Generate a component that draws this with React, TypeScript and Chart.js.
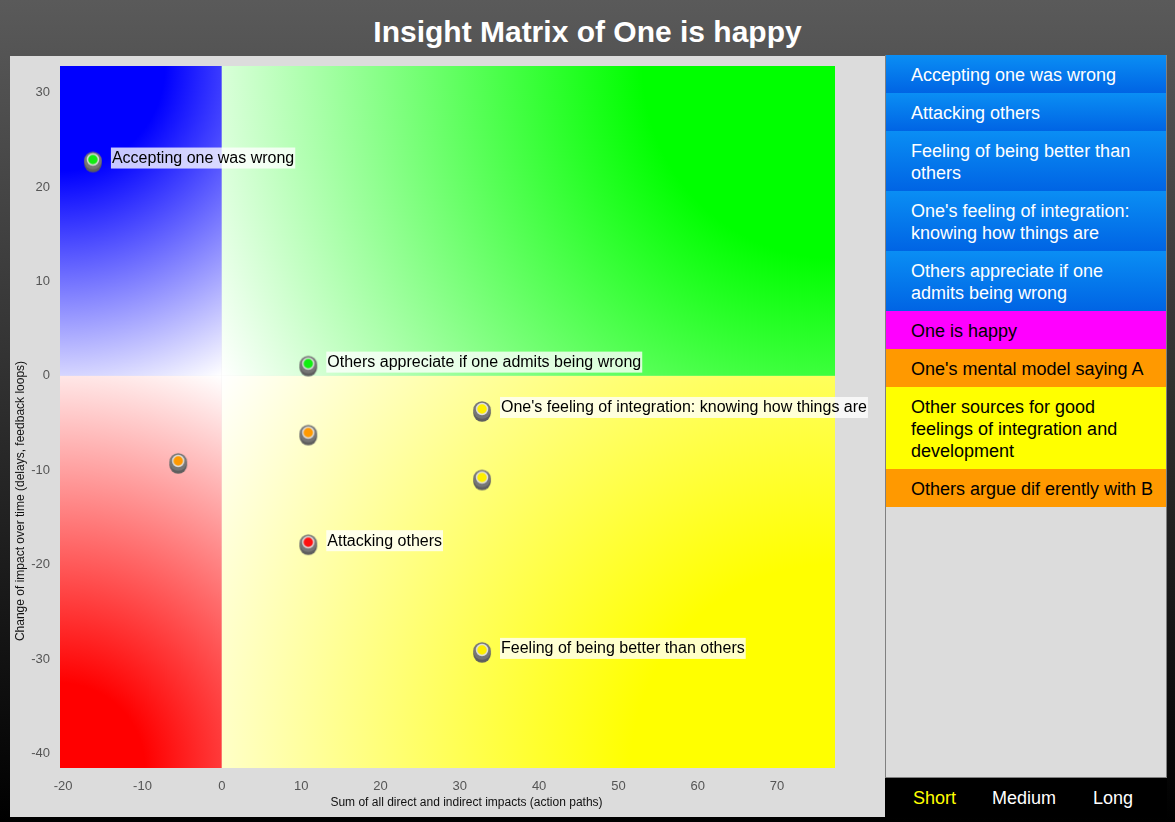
import React, { useEffect, useRef } from "react";
import { Chart, registerables } from "chart.js";

Chart.register(...registerables);

const FONT = "'Liberation Sans', Arial, Helvetica, sans-serif";

const TITLE = "Insight Matrix of One is happy";
const X_TITLE = "Sum of all direct and indirect impacts (action paths)";
const Y_TITLE = "Change of impact over time (delays, feedback loops)";

const X_TICKS = [-20, -10, 0, 10, 20, 30, 40, 50, 60, 70];
const Y_TICKS = [-40, -30, -20, -10, 0, 10, 20, 30];
const X_MIN = -20.4;
const X_MAX = 77.3;
const Y_MIN = -41.5;
const Y_MAX = 32.8;

const POINT_NAMES = [
  "Accepting one was wrong",
  "Others appreciate if one admits being wrong",
  "One's feeling of integration: knowing how things are",
  "One's mental model saying A",
  "Others argue dif erently with B",
  "Other sources for good feelings of integration and development",
  "Attacking others",
  "Feeling of being better than others",
];
const POINT_X = [-16.25, 10.9, 32.8, 10.9, -5.5, 32.8, 10.9, 32.8];
const POINT_Y = [22.9, 1.3, -3.5, -6.0, -9.0, -10.75, -17.6, -29.0];
const POINT_COLORS = ["#11ee11", "#11ee11", "#fff000", "#ff9900", "#ff9900", "#fff000", "#ff1111", "#fff000"];
const POINT_LABELED = [true, true, true, false, false, false, true, true];

const LIST_ITEMS = [
  "Accepting one was wrong",
  "Attacking others",
  "Feeling of being better than\nothers",
  "One's feeling of integration:\nknowing how things are",
  "Others appreciate if one\nadmits being wrong",
  "One is happy",
  "One's mental model saying A",
  "Other sources for good\nfeelings of integration and\ndevelopment",
  "Others argue dif erently with B",
];
const LIST_KINDS = ["blue", "blue", "blue", "blue", "blue", "magenta", "orange", "yellow", "orange"];

const TIME_OPTIONS = ["Short", "Medium", "Long"];
const TIME_LEFT = [913, 992, 1093];
const SELECTED_TIME = 0;

const KIND_STYLE: Record<string, { bg: string; color: string }> = {
  blue: { bg: "linear-gradient(to bottom, #0a8ef4, #0064e4)", color: "#ffffff" },
  magenta: { bg: "#ff00ff", color: "#000000" },
  orange: { bg: "#ff9900", color: "#000000" },
  yellow: { bg: "#ffff00", color: "#000000" },
};

function makeMarker(color: string) {
  const c = document.createElement("canvas");
  c.width = 24;
  c.height = 30;
  const g = c.getContext("2d")!;
  const cx = 12;
  const cy = 15;
  g.fillStyle = "#5e5e5e";
  g.beginPath();
  g.arc(cx, cy + 4, 8.8, 0, Math.PI * 2);
  g.fill();
  g.fillStyle = "#767676";
  g.beginPath();
  g.arc(cx, cy + 1, 8.8, 0, Math.PI * 2);
  g.fill();
  g.fillStyle = color;
  g.beginPath();
  g.arc(cx, cy, 5.5, 0, Math.PI * 2);
  g.fill();
  g.strokeStyle = "rgba(225,225,225,0.95)";
  g.lineWidth = 1.5;
  g.stroke();
  return c;
}

export default function App() {
  const canvasRef = useRef<HTMLCanvasElement>(null);

  useEffect(() => {
    const canvas = canvasRef.current!;
    const markers = POINT_COLORS.map(makeMarker);

    const quadrantPlugin = {
      id: "quadrants",
      beforeDatasetsDraw(chart: any) {
        const { ctx, chartArea: a, scales } = chart;
        const ox = scales.x.getPixelForValue(0);
        const oy = scales.y.getPixelForValue(0);
        const quads: [number, number, string, number][] = [
          [a.left, a.top, "#0000ff", 0.3],
          [a.right, a.top, "#00ff00", 0.28],
          [a.left, a.bottom, "#ff0000", 0.2],
          [a.right, a.bottom, "#ffff00", 0.28],
        ];
        ctx.save();
        for (const [cx, cy, col, solid] of quads) {
          const r = Math.hypot(cx - ox, cy - oy);
          const g = ctx.createRadialGradient(cx, cy, 0, cx, cy, r);
          g.addColorStop(0, col);
          g.addColorStop(solid, col);
          g.addColorStop(1, "#ffffff");
          ctx.fillStyle = g;
          ctx.fillRect(Math.min(ox, cx), Math.min(oy, cy), Math.abs(cx - ox), Math.abs(cy - oy));
        }
        ctx.restore();
      },
    };

    const labelPlugin = {
      id: "pointLabels",
      afterDatasetsDraw(chart: any) {
        const { ctx } = chart;
        const meta = chart.getDatasetMeta(0);
        ctx.save();
        ctx.font = `16px ${FONT}`;
        ctx.textBaseline = "middle";
        ctx.textAlign = "left";
        meta.data.forEach((el: any, i: number) => {
          if (!POINT_LABELED[i]) return;
          const text = POINT_NAMES[i];
          const w = ctx.measureText(text).width;
          const lx = el.x + 18;
          const cy = el.y - 1.5;
          ctx.fillStyle = "rgba(255,255,255,0.78)";
          ctx.fillRect(lx, cy - 10.5, w + 2, 21);
          ctx.fillStyle = "#000000";
          ctx.fillText(text, lx + 1, cy + 0.5);
        });
        ctx.restore();
      },
    };

    const axisTitlePlugin = {
      id: "axisTitles",
      afterDraw(chart: any) {
        const { ctx } = chart;
        ctx.save();
        ctx.font = `12px ${FONT}`;
        ctx.fillStyle = "#111111";
        ctx.textAlign = "center";
        ctx.textBaseline = "middle";
        ctx.fillText(X_TITLE, 456.5, 747);
        ctx.translate(11, 445);
        ctx.rotate(-Math.PI / 2);
        ctx.fillText(Y_TITLE, 0, 0);
        ctx.restore();
      },
    };

    const chart = new Chart(canvas, {
      type: "scatter",
      data: {
        datasets: [
          {
            data: POINT_X.map((x, i) => ({ x, y: POINT_Y[i] })),
            pointStyle: markers as any,
            pointRadius: 9,
            pointHoverRadius: 9,
            clip: false as any,
          },
        ],
      },
      options: {
        animation: false,
        responsive: false,
        maintainAspectRatio: false,
        layout: { padding: { top: 9, right: 50, left: 0, bottom: 0 } },
        plugins: {
          legend: { display: false },
          tooltip: { enabled: false },
          title: { display: false },
        },
        scales: {
          x: {
            type: "linear",
            min: X_MIN,
            max: X_MAX,
            grid: { display: false, drawTicks: false },
            border: { display: false },
            ticks: { color: "#555555", font: { size: 13, family: FONT }, padding: 11, autoSkip: false, maxRotation: 0 },
            afterBuildTicks: (s: any) => {
              s.ticks = X_TICKS.map((v) => ({ value: v }));
            },
            afterFit: (s: any) => {
              s.height = 49;
              s.paddingLeft = 0;
              s.paddingRight = 0;
            },
          },
          y: {
            type: "linear",
            min: Y_MIN,
            max: Y_MAX,
            grid: { display: false, drawTicks: false },
            border: { display: false },
            ticks: { color: "#555555", font: { size: 13, family: FONT }, padding: 10, autoSkip: false },
            afterBuildTicks: (s: any) => {
              s.ticks = Y_TICKS.map((v) => ({ value: v }));
            },
            afterFit: (s: any) => {
              s.width = 50;
              s.paddingTop = 0;
              s.paddingBottom = 0;
            },
          },
        },
      },
      plugins: [quadrantPlugin, labelPlugin, axisTitlePlugin],
    });

    return () => chart.destroy();
  }, []);

  return (
    <div
      style={{
        position: "fixed",
        left: 0,
        top: 0,
        width: 1175,
        height: 822,
        overflow: "hidden",
        background: "linear-gradient(to bottom, #5a5a5a, #000000)",
        fontFamily: FONT,
      }}
    >
      <div
        style={{
          position: "absolute",
          left: 0,
          top: 15,
          width: 1175,
          textAlign: "center",
          color: "#ffffff",
          fontWeight: "bold",
          fontSize: 30,
          lineHeight: "34px",
        }}
      >
        {TITLE}
      </div>

      <div style={{ position: "absolute", left: 10, top: 56, width: 875, height: 761, background: "#dcdcdc" }}>
        <canvas ref={canvasRef} width={875} height={761} style={{ display: "block", width: 875, height: 761 }} />
      </div>

      <div
        style={{
          position: "absolute",
          left: 885,
          top: 55,
          width: 282,
          height: 723,
          boxSizing: "border-box",
          border: "1px solid #808080",
          borderTop: "none",
          background: "#dcdcdc",
        }}
      >
        {LIST_ITEMS.map((t, i) => {
          const st = KIND_STYLE[LIST_KINDS[i]];
          return (
            <div
              key={i}
              style={{
                background: st.bg,
                color: st.color,
                fontSize: 18,
                lineHeight: "22px",
                padding: "9px 8px 7px 25px",
                whiteSpace: "pre-line",
              }}
            >
              {t}
            </div>
          );
        })}
      </div>

      <div style={{ position: "absolute", left: 885, top: 778, width: 282, height: 40, background: "#000000" }}>
        {TIME_OPTIONS.map((t, i) => (
          <span
            key={t}
            style={{
              position: "absolute",
              left: TIME_LEFT[i] - 885,
              top: 0,
              lineHeight: "40px",
              fontSize: 18,
              color: i === SELECTED_TIME ? "#ffff00" : "#ffffff",
            }}
          >
            {t}
          </span>
        ))}
      </div>
    </div>
  );
}
